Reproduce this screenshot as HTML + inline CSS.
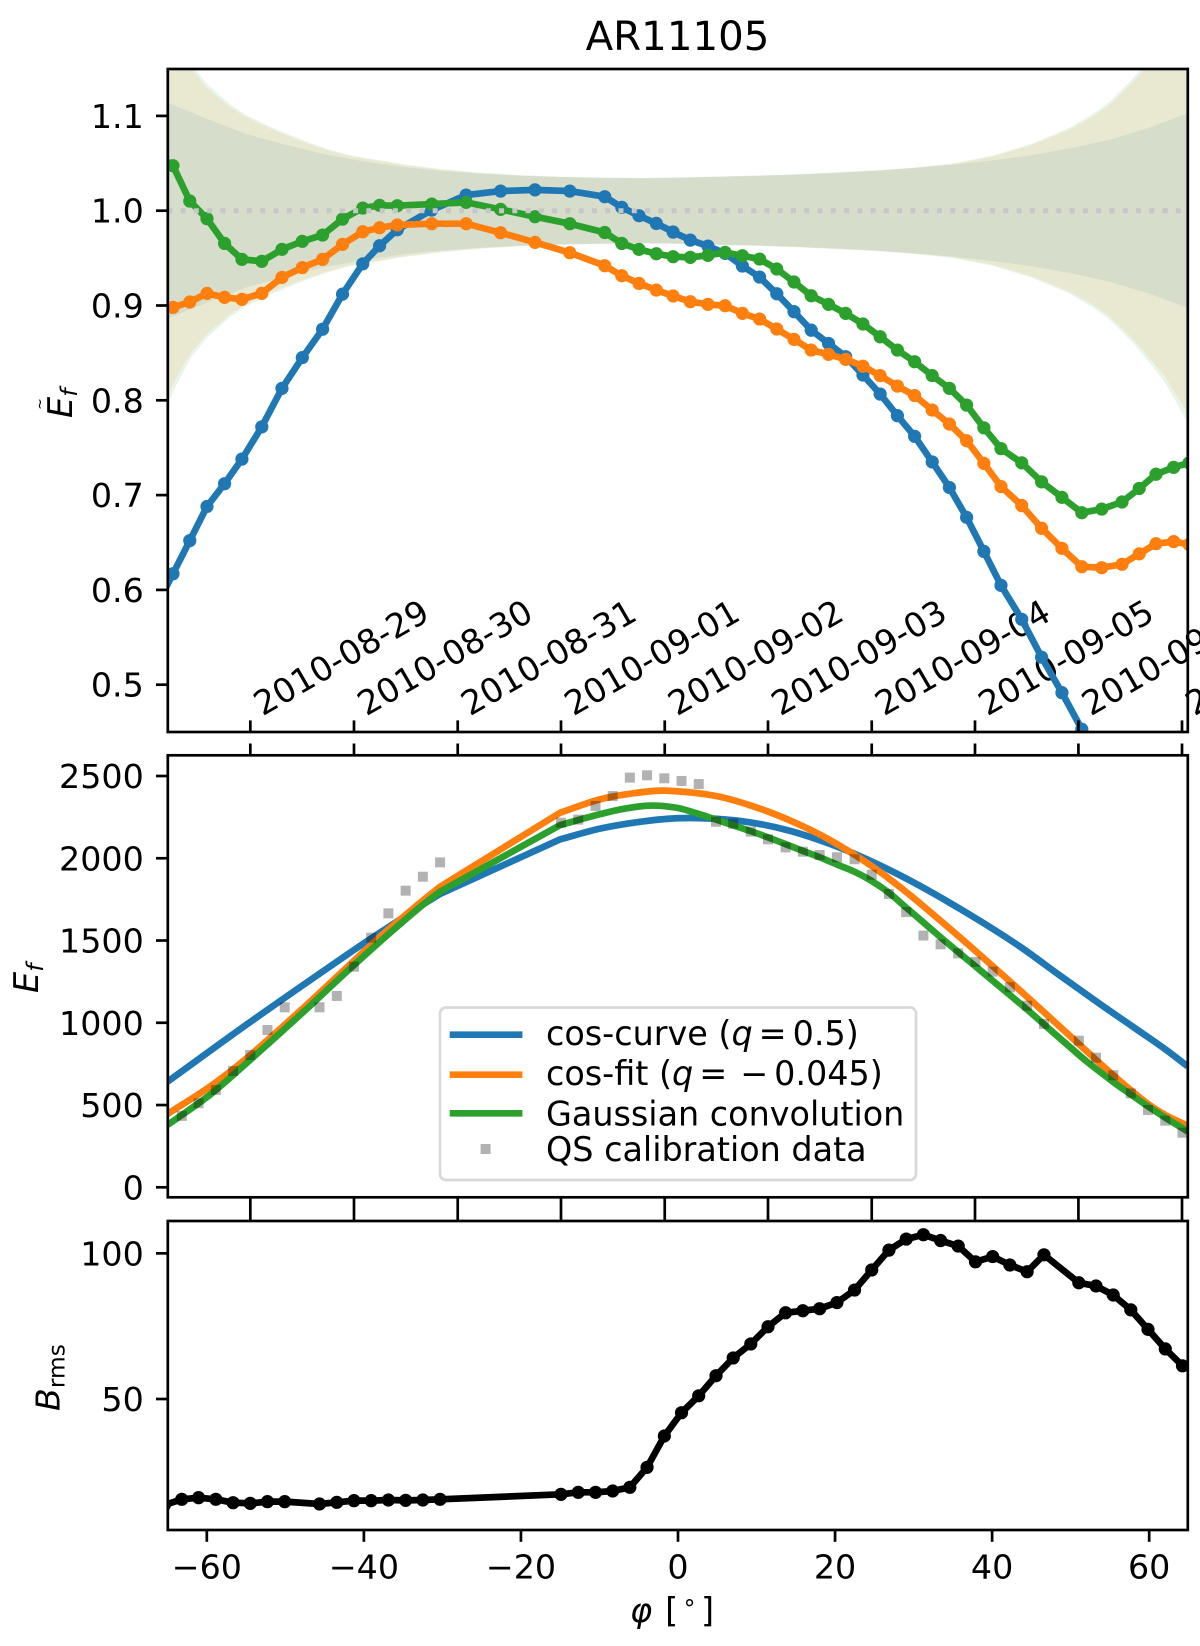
<!DOCTYPE html>
<html>
<head>
<meta charset="utf-8">
<title>AR11105</title>
<style>
html,body{margin:0;padding:0;background:#fff;}
svg{display:block;}
text{font-family:"DejaVu Sans","Liberation Sans",sans-serif;fill:#000;}
</style>
</head>
<body>
<svg id="fig" xmlns="http://www.w3.org/2000/svg" width="1200" height="1646" viewBox="0 0 1200 1646">
  <defs>
    <clipPath id="clip-top"><rect x="167.8" y="69" width="1020" height="663"/></clipPath>
    <clipPath id="clip-mid"><rect x="167.8" y="755.3" width="1020" height="442"/></clipPath>
    <clipPath id="clip-bot"><rect x="167.8" y="1221" width="1020" height="309"/></clipPath>
  </defs>
  <rect x="0" y="0" width="1200" height="1646" fill="#fff"/>
  <text x="677.5" y="50" font-size="40.3" text-anchor="middle">AR11105</text>

  <g id="top-bands" clip-path="url(#clip-top)"></g>
  <g id="top-date-labels"></g>
  <g id="top-lines" clip-path="url(#clip-top)"></g>
  <g id="top-ref" clip-path="url(#clip-top)"></g>
  <g id="mid-lines" clip-path="url(#clip-mid)"></g>
  <g id="mid-points" clip-path="url(#clip-mid)"></g>
  <g id="bot-lines" clip-path="url(#clip-bot)"></g>
  <g id="ticks"></g>

  <rect x="167.8" y="69" width="1020" height="663" fill="none" stroke="#000" stroke-width="2.7"/>
  <rect x="167.8" y="755.3" width="1020" height="442" fill="none" stroke="#000" stroke-width="2.7"/>
  <rect x="167.8" y="1221" width="1020" height="309" fill="none" stroke="#000" stroke-width="2.7"/>

  <g>
    <text transform="translate(72,418) rotate(-90)" font-size="33.6" font-style="italic">E<tspan font-size="23.5" dy="5">f</tspan></text>
    <text transform="translate(44.5,404) rotate(-90)" font-size="14" text-anchor="middle">~</text>
  </g>
  <text transform="translate(38,993) rotate(-90)" font-size="33.6" font-style="italic">E<tspan font-size="23.5" dy="5">f</tspan></text>
  <text transform="translate(59.5,1411) rotate(-90)" font-size="33.3"><tspan font-style="italic">B</tspan><tspan font-size="23.3" dy="5">rms</tspan></text>
  <text x="630" y="1622" font-size="33.6"><tspan font-style="italic">φ</tspan><tspan dx="13">[</tspan><tspan font-size="23.5" dy="-12" dx="4">∘</tspan><tspan dy="12" dx="4">]</tspan></text>

  <g>
    <rect x="440" y="1007.5" width="476" height="172.5" rx="6" ry="6" fill="#fff" fill-opacity="0.8" stroke="#d9d9d9" stroke-width="2.7"/>
    <line x1="449.7" x2="522.4" y1="1034.7" y2="1034.7" stroke="#1f77b4" stroke-width="6.7"/>
    <line x1="449.7" x2="522.4" y1="1074.7" y2="1074.7" stroke="#ff7f0e" stroke-width="6.7"/>
    <line x1="449.7" x2="522.4" y1="1113.3" y2="1113.3" stroke="#2ca02c" stroke-width="6.7"/>
    <rect x="480.6" y="1144" width="10" height="10" fill="#000" fill-opacity="0.3"/>
    <text x="546" y="1045" font-size="33.4">cos-curve (<tspan font-style="italic">q</tspan><tspan dx="6">=</tspan><tspan dx="6">0.5)</tspan></text>
    <text x="546" y="1085" font-size="33.4">cos-fit (<tspan font-style="italic">q</tspan><tspan dx="6">=</tspan><tspan dx="13">−</tspan><tspan dx="6">0.045)</tspan></text>
    <text x="546" y="1125.5" font-size="33.4">Gaussian convolution</text>
    <text x="546" y="1161" font-size="33.4">QS calibration data</text>
  </g>
</svg>
<script>
// ---- top panel data (phi in degrees, normalized flux) ----
var topPhi = [-66.47,-64.31,-62.17,-59.98,-57.74,-55.53,-53.0,-50.43,-47.84,-45.26,-42.72,-40.14,-38.0,-35.74,-31.36,-26.98,-22.59,-18.21,-13.78,-9.33,-7.16,-4.97,-2.76,-0.62,1.57,3.81,6.0,8.2,10.39,12.58,14.77,16.96,19.17,21.35,23.55,25.74,27.94,30.13,32.37,34.56,36.75,38.95,41.13,43.77,46.3,48.89,51.42,53.96,56.54,58.73,60.87,63.12,65.07];
var topBlue = [0.582,0.617,0.652,0.688,0.712,0.738,0.772,0.8126,0.845,0.875,0.912,0.944,0.963,0.980,1.0007,1.0165,1.0207,1.022,1.0207,1.0148,1.0035,0.9947,0.9866,0.9775,0.969,0.9627,0.955,0.9416,0.930,0.9124,0.8935,0.874,0.860,0.846,0.8267,0.8066,0.7838,0.762,0.735,0.708,0.6765,0.6406,0.6048,0.569,0.529,0.4916,0.453];
var topOrange = [0.89,0.898,0.9037,0.9128,0.9086,0.9065,0.9128,0.9297,0.940,0.9487,0.9645,0.9778,0.982,0.985,0.9863,0.9863,0.9768,0.9666,0.9557,0.942,0.9314,0.9233,0.9163,0.91,0.904,0.9012,0.8998,0.8917,0.8857,0.8752,0.8643,0.853,0.8485,0.8432,0.836,0.826,0.815,0.805,0.7897,0.775,0.7574,0.7335,0.709,0.689,0.665,0.6438,0.6245,0.6234,0.627,0.638,0.6487,0.651,0.648];
var topGreen = [1.06,1.0475,1.0102,0.9916,0.9655,0.9487,0.9466,0.9592,0.9677,0.9743,0.9912,1.0028,1.0056,1.0053,1.007,1.0088,1.0014,0.9937,0.9863,0.977,0.9655,0.9592,0.9546,0.9515,0.9508,0.9529,0.956,0.9525,0.949,0.9385,0.9248,0.9103,0.9012,0.8917,0.8805,0.867,0.853,0.8407,0.826,0.8126,0.795,0.771,0.749,0.734,0.714,0.6976,0.6814,0.6853,0.6927,0.707,0.722,0.7293,0.734];
// uncertainty half-widths around 1.0
var bandPhiBlue = [-65,-60,-55,-50,-45,-40,-35,-30,-25,-20,-15,-10,-5,0,5,10,15,20,25,30,35,40,45,50,55,60,65];
var bandBlue = [0.114,0.097,0.081,0.0695,0.0595,0.052,0.046,0.042,0.039,0.037,0.0355,0.0348,0.0345,0.035,0.036,0.037,0.038,0.0397,0.042,0.045,0.0485,0.053,0.0585,0.066,0.075,0.0875,0.103];
var bandPhiOuter = [-65,-64,-63,-62,-60,-57,-55,-52,-50,-47,-45,-42,-40,-37,-35,-30,-25,-20,-15,-10,-5,0,5,10,15,20,25,30,35,40,45,50,53,55,58,60,62,65];
var bandOrange = [0.195,0.178,0.163,0.150,0.130,0.109,0.099,0.087,0.08,0.0705,0.065,0.058,0.055,0.051,0.048,0.043,0.0395,0.037,0.0355,0.0345,0.034,0.0345,0.0355,0.0365,0.038,0.04,0.042,0.045,0.049,0.057,0.069,0.086,0.1,0.112,0.136,0.155,0.175,0.215];
var bandGreen = [0.205,0.186,0.170,0.155,0.134,0.112,0.101,0.089,0.082,0.072,0.066,0.059,0.056,0.052,0.049,0.044,0.04,0.0375,0.036,0.035,0.0345,0.035,0.036,0.037,0.0385,0.0405,0.0425,0.0455,0.05,0.058,0.0705,0.088,0.103,0.115,0.14,0.16,0.181,0.225];
// ---- date ticks ----
var dateTickPhi = [-54.46,-41.26,-28.05,-14.9,-1.69,11.46,24.67,37.82,50.99,64.18];
var dateTickLabels = ["2010-08-29","2010-08-30","2010-08-31","2010-09-01","2010-09-02","2010-09-03","2010-09-04","2010-09-05","2010-09-06","2010-09-07"];
var topYTicks = [0.5,0.6,0.7,0.8,0.9,1.0,1.1];
var topYTickLabels = ["0.5","0.6","0.7","0.8","0.9","1.0","1.1"];
// ---- middle panel data ----
var cosCurvePhi = [-65,-54.7,-42.5,-39.07,-32.7,-30.3,-15,-9.93,-5.06,-0.18,4.7,9.6,14.4,19.3,24.2,29.06,33.9,38.8,43.7,48.5,53.73,57.98,62.22,64.9];
var cosCurveVals = [642,997,1402,1513,1712,1783,2115,2180,2220,2243,2240,2215,2165,2088,1991,1877,1749,1609,1458,1292,1114,974,833,735];
var cosFitPhi = [-65,-59.5,-54.7,-47.4,-42.5,-37.6,-32.7,-30.3,-15,-9.93,-5.06,-1.65,4.69,9.56,14.44,19.31,24.67,29.06,33.93,38,42.19,45.24,48.22,50.97,53.31,55.43,57.98,60.1,62.22,64.9];
var cosFitVals = [446,616,794,1104,1322,1538,1735,1827,2277,2358,2399,2411,2380,2316,2226,2112,1952,1795,1600,1432,1255,1124,994,874,772,681,578,498,435,375];
var gaussPhi = [-65,-59.5,-54.7,-47.4,-42.5,-37.6,-32.7,-30.3,-15,-9.93,-7,-3.6,-0.18,2.25,4.84,7.03,9.27,11.46,13.7,15.9,18.04,20.24,22.48,24.67,26.86,29.06,31.25,33.44,35.68,37.88,41,44.4,46.73,49.49,52.04,55.43,57.55,59.68,62.22,64.9];
var gaussVals = [379,566,765,1079,1297,1508,1709,1797,2202,2268,2300,2320,2307,2275,2235,2200,2165,2127,2086,2045,2006,1962,1918,1862,1790,1700,1610,1520,1430,1343,1219,1083,985,870,765,640,568,497,418,340];
var curveKinkPhi = [-30.3,-15];
var qsPhi = [-63.19,-61.05,-58.85,-56.66,-54.47,-52.28,-50.08,-45.65,-43.45,-41.26,-39.07,-36.88,-34.68,-32.49,-30.3,-14.9,-12.7,-10.5,-8.32,-6.13,-3.94,-1.74,0.45,2.64,4.84,7.03,9.27,11.46,13.7,15.9,18.04,20.24,22.48,24.67,26.86,29.06,31.25,33.44,35.68,37.88,40.07,42.26,44.46,46.6,51.04,53.23,55.42,57.66,59.85,62.05,64.24];
var qsVals = [434,511,592,707,804,956,1094,1094,1163,1341,1517,1665,1803,1888,1975,2216,2235,2318,2378,2490,2504,2486,2470,2451,2222,2210,2162,2115,2066,2040,2020,2006,1994,1900,1783,1673,1530,1477,1422,1370,1311,1216,1104,993,891,788,681,571,470,405,332];
var midYTicks = [0,500,1000,1500,2000,2500];
var midYTickLabels = ["0","500","1000","1500","2000","2500"];
// ---- bottom panel data ----
var brmsPhi = [-65.4,-63.19,-61.05,-58.85,-56.66,-54.47,-52.28,-50.08,-45.65,-43.45,-41.26,-39.07,-36.88,-34.68,-32.49,-30.3,-14.9,-12.7,-10.5,-8.32,-6.13,-3.94,-1.74,0.45,2.64,4.84,7.03,9.27,11.46,13.7,15.9,18.04,20.24,22.48,24.67,26.86,29.06,31.25,33.44,35.68,37.88,40.07,42.26,44.46,46.6,51.04,53.23,55.42,57.66,59.85,62.05,64.24];
var brmsVals = [13.6,15.56,16.13,15.56,14.41,14.18,14.76,14.76,13.96,14.53,15.1,15.1,15.33,15.21,15.33,15.56,17.27,17.96,17.96,18.42,19.68,26.54,37.3,45.3,51.1,58,64.1,68.9,74.8,79.6,80.3,81,83.1,87.4,94.3,101.1,104.9,106.4,104.4,102.5,97.1,98.9,96,93.7,99.5,89.9,88.8,85.7,80.6,73.9,67.2,61.4];
var botYTicks = [50,100];
var botYTickLabels = ["50","100"];
var xTicks = [-60,-40,-20,0,20,40,60];
var xTickLabels = ["−60","−40","−20","0","20","40","60"];

// ---- axis functions ----
function xScale(phi){ return 678 + phi * 7.853; }
function yTop(v){ return 210.7 - (v - 1) * 948; }
function yMid(v){ return 1187.3 - v * 0.16452; }
function yBot(v){ return 1399 - (v - 50) * 2.913; }

var NS = 'http://www.w3.org/2000/svg';
function mk(tag, parent){
  var el = document.createElementNS(NS, tag);
  parent.appendChild(el);
  return el;
}
function pointsOf(xs, ys, yFn){
  var n = Math.min(xs.length, ys.length), out = [];
  for (var i = 0; i < n; i++) out.push(xScale(xs[i]).toFixed(2) + ',' + yFn(ys[i]).toFixed(2));
  return out;
}

// bands
var gBands = document.getElementById('top-bands');
function band(xs, hw, color, name){
  var up = [], lo = [];
  for (var i = 0; i < xs.length; i++){
    up.push(xScale(xs[i]).toFixed(2) + ',' + yTop(1 + hw[i]).toFixed(2));
    lo.unshift(xScale(xs[i]).toFixed(2) + ',' + yTop(1 - hw[i]).toFixed(2));
  }
  var p = mk('polygon', gBands);
  p.setAttribute('points', up.concat(lo).join(' '));
  p.setAttribute('fill', color);
  p.setAttribute('fill-opacity', '0.1');
  
  
}
band(bandPhiBlue, bandBlue, '#1f77b4', 'band-cos-curve');
band(bandPhiOuter, bandOrange, '#ff7f0e', 'band-cos-fit');
band(bandPhiOuter, bandGreen, '#2ca02c', 'band-gaussian');

// date labels
var gDates = document.getElementById('top-date-labels');
dateTickLabels.forEach(function(lbl, i){
  var t = mk('text', gDates);
  t.setAttribute('transform', 'translate(' + (xScale(dateTickPhi[i]) + 12.2).toFixed(2) + ',716.5) rotate(-30)');
  t.setAttribute('font-size', '33.6');
  
  
  t.textContent = lbl;
});

// line + marker series
function series(parent, xs, ys, yFn, color, name){
  var pts = pointsOf(xs, ys, yFn);
  var l = mk('polyline', parent);
  l.setAttribute('points', pts.join(' '));
  l.setAttribute('fill', 'none');
  l.setAttribute('stroke', color);
  l.setAttribute('stroke-width', '6.7');
  l.setAttribute('stroke-linejoin', 'round');
  
  
  pts.forEach(function(p){
    var xy = p.split(',');
    var c = mk('circle', parent);
    c.setAttribute('cx', xy[0]);
    c.setAttribute('cy', xy[1]);
    c.setAttribute('r', '6.6');
    c.setAttribute('fill', color);
    
    
  });
}
var gTop = document.getElementById('top-lines');
series(gTop, topPhi, topBlue, yTop, '#1f77b4', 'normalized-cos-curve');
series(gTop, topPhi, topOrange, yTop, '#ff7f0e', 'normalized-cos-fit');
series(gTop, topPhi, topGreen, yTop, '#2ca02c', 'normalized-gaussian');

// reference line at 1.0
var refLine = mk('line', document.getElementById('top-ref'));
refLine.setAttribute('x1', '167.3');
refLine.setAttribute('x2', '1188');
refLine.setAttribute('y1', yTop(1).toFixed(2));
refLine.setAttribute('y2', yTop(1).toFixed(2));
refLine.setAttribute('stroke', '#c6c6c9');
refLine.setAttribute('stroke-width', '5');
refLine.setAttribute('stroke-dasharray', '5 8.27');



// middle curves, smoothed through the read points; data-gap edges stay as kinks
var gMid = document.getElementById('mid-lines');
function curve(xs, ys, color, name){
  var P = [], isKink = [];
  for (var i = 0; i < xs.length; i++){
    P.push([xScale(xs[i]), yMid(ys[i])]);
    isKink.push(curveKinkPhi.indexOf(xs[i]) >= 0);
  }
  var d = 'M' + P[0][0].toFixed(2) + ' ' + P[0][1].toFixed(2);
  for (var j = 0; j < P.length - 1; j++){
    var p0 = P[Math.max(j - 1, 0)], p1 = P[j], p2 = P[j + 1], p3 = P[Math.min(j + 2, P.length - 1)];
    var seg = p2[0] - p1[0];
    var chord = (p2[1] - p1[1]) / seg;
    var m1 = isKink[j] ? chord : (p2[1] - p0[1]) / (p2[0] - p0[0]);
    var m2 = isKink[j + 1] ? chord : (p3[1] - p1[1]) / (p3[0] - p1[0]);
    d += ' C' + (p1[0] + seg / 3).toFixed(2) + ' ' + (p1[1] + m1 * seg / 3).toFixed(2) + ' ' +
         (p2[0] - seg / 3).toFixed(2) + ' ' + (p2[1] - m2 * seg / 3).toFixed(2) + ' ' +
         p2[0].toFixed(2) + ' ' + p2[1].toFixed(2);
  }
  var l = mk('path', gMid);
  l.setAttribute('d', d);
  l.setAttribute('fill', 'none');
  l.setAttribute('stroke', color);
  l.setAttribute('stroke-width', '6.7');
  l.setAttribute('stroke-linejoin', 'round');
  
  
}
curve(cosCurvePhi, cosCurveVals, '#1f77b4', 'cos-curve-line');
curve(cosFitPhi, cosFitVals, '#ff7f0e', 'cos-fit-line');
curve(gaussPhi, gaussVals, '#2ca02c', 'gaussian-line');

// QS squares
var gPts = document.getElementById('mid-points');
qsPhi.forEach(function(phi, i){
  var r = mk('rect', gPts);
  r.setAttribute('x', (xScale(phi) - 5).toFixed(2));
  r.setAttribute('y', (yMid(qsVals[i]) - 5).toFixed(2));
  r.setAttribute('width', '10');
  r.setAttribute('height', '10');
  r.setAttribute('fill', '#000');
  r.setAttribute('fill-opacity', '0.3');
  
  
});

// bottom series
series(document.getElementById('bot-lines'), brmsPhi, brmsVals, yBot, '#000', 'brms');

// ticks
var gTicks = document.getElementById('ticks');
function tick(x1, y1, x2, y2){
  var l = mk('line', gTicks);
  l.setAttribute('x1', x1.toFixed(2));
  l.setAttribute('y1', y1.toFixed(2));
  l.setAttribute('x2', x2.toFixed(2));
  l.setAttribute('y2', y2.toFixed(2));
  l.setAttribute('stroke', '#000');
  l.setAttribute('stroke-width', '2.7');
  
  
}
function yLabel(txt, y){
  var t = mk('text', gTicks);
  t.setAttribute('x', '143.8');
  t.setAttribute('y', (y + 12).toFixed(2));
  t.setAttribute('font-size', '33.3');
  t.setAttribute('text-anchor', 'end');
  
  
  t.textContent = txt;
}
topYTicks.forEach(function(v, i){
  var y = yTop(v);
  tick(156, y, 167.8, y);
  yLabel(topYTickLabels[i], y);
});
midYTicks.forEach(function(v, i){
  var y = yMid(v);
  tick(156, y, 167.8, y);
  yLabel(midYTickLabels[i], y);
});
botYTicks.forEach(function(v, i){
  var y = yBot(v);
  tick(156, y, 167.8, y);
  yLabel(botYTickLabels[i], y);
});
dateTickPhi.forEach(function(phi){
  var x = xScale(phi);
  tick(x, 720.4, x, 732);
  tick(x, 743.5, x, 755.3);
  tick(x, 1197.3, x, 1221);
});
xTicks.forEach(function(v, i){
  var x = xScale(v);
  tick(x, 1530, x, 1541.8);
  var t = mk('text', gTicks);
  t.setAttribute('x', x.toFixed(2));
  t.setAttribute('y', '1578.5');
  t.setAttribute('font-size', '33.3');
  t.setAttribute('text-anchor', 'middle');
  
  
  t.textContent = xTickLabels[i];
});
</script>
</body>
</html>
